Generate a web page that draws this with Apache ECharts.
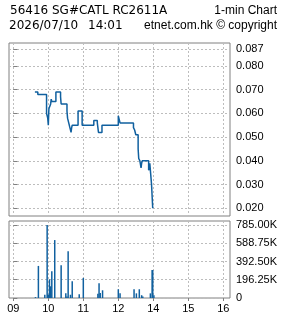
<!DOCTYPE html>
<html><head><meta charset="utf-8">
<script src="https://cdn.jsdelivr.net/npm/echarts@6/dist/echarts.min.js"></script>
<style>html,body{margin:0;padding:0;background:#fff}#c{width:285px;height:318px}</style>
</head><body><div id="c"></div>
<script>
const titleLine1 = "56416 SG#CATL RC2611A";
const titleRight1 = "1-min Chart";
const titleDate = "2026/07/10";
const titleTime = "14:01";
const titleRight2 = "etnet.com.hk \u00A9 copyright";
const prevClose = 0.087;

const priceTimes = ["09:37","09:42","09:57","09:59","10:00","10:01","10:04","10:05","10:06","10:13","10:21","10:22","10:32","10:33","10:35","10:37","10:39","10:40","10:41","10:51","10:58","11:18","11:24","11:26","11:32","13:00","13:03","13:26","13:28","13:30","13:34","13:35","13:37","13:39","13:40","13:41","13:52","13:54","13:57","13:59","14:00"];
const priceValues = [0.069,0.068,0.060,0.058,0.055,0.062,0.064,0.066,0.065,0.069,0.067,0.064,0.061,0.058,0.056,0.054,0.052,0.054,0.055,0.061,0.055,0.057,0.056,0.052,0.055,0.059,0.056,0.054,0.053,0.051,0.045,0.041,0.040,0.037,0.039,0.040,0.036,0.039,0.030,0.020,0.020];

const volTimes = ["09:38","09:43","09:54","09:58","09:59","10:00","10:02","10:03","10:04","10:06","10:11","10:22","10:30","10:32","10:34","10:38","10:41","10:53","11:00","11:25","11:27","11:29","11:33","13:00","13:03","13:27","13:31","13:36","13:40","13:42","13:55","13:58","13:59","14:01"];
const volValues = [10000,345000,35000,785000,35000,35000,200000,35000,126000,288000,623000,353000,50000,15000,504000,35000,180000,40000,216000,45000,159000,55000,83000,94000,50000,94000,50000,94000,30000,15000,50000,300000,300000,30000];

const hourTickTimes = ["09:00","10:00","11:00","12:00","14:00","15:00","16:00"];
const hourTickLabels = ["09","10","11","12","14","15","16"];
const priceTicks = [0.020,0.030,0.040,0.050,0.060,0.070,0.080];
const volTicks = [0,196250,392500,588750,785000];

function tradeMin(t){
  const p = t.split(':').map(Number);
  let v = (p[0]-9)*60 + p[1];
  if (p[0] >= 13) v -= 60;
  return v;
}
const hourPos = hourTickTimes.map(tradeMin);
const labelMap = {};
hourPos.forEach((p,i)=>{labelMap[p]=hourTickLabels[i];});

const priceData = priceTimes.map((t,i)=>[tradeMin(t), priceValues[i]]);
const volData = volTimes.map((t,i)=>[tradeMin(t), volValues[i]]);

const X_MIN = -7.4, X_MAX = 371.5;
const gridColor = '#bdbdbd';
const blue = '#10609f';
const lblFont = {fontFamily:'Liberation Sans', fontSize:11, color:'#000'};
const dv = {fontFamily:'DejaVu Sans', fontSize:12, fill:'#000'};
const ls = {fontFamily:'Liberation Sans', fontSize:12, fill:'#000'};

const chart = echarts.init(document.getElementById('c'), null, {renderer:'canvas'});
chart.setOption({
  animation:false,
  backgroundColor:'#fff',
  graphic:[
    {type:'text', left:10, top:5, style:Object.assign({text:titleLine1}, dv)},
    {type:'text', right:8, top:5, style:Object.assign({text:titleRight1}, ls)},
    {type:'text', left:9, top:20, style:Object.assign({text:titleDate}, dv)},
    {type:'text', left:88, top:20, style:Object.assign({text:titleTime}, dv)},
    {type:'text', right:8, top:20, style:Object.assign({text:titleRight2}, ls)}
  ],
  grid:[
    {left:9, top:43, width:221, height:173, show:true, borderColor:'#808080', borderWidth:1, containLabel:false},
    {left:9, top:221, width:221, height:77, show:true, borderColor:'#808080', borderWidth:1, containLabel:false}
  ],
  xAxis:[
    {type:'value', gridIndex:0, min:X_MIN, max:X_MAX,
     axisLine:{show:false}, axisLabel:{show:false},
     axisTick:{show:false, customValues:hourPos},
     splitLine:{show:true, lineStyle:{color:gridColor, type:[2,2], width:1}}},
    {type:'value', gridIndex:1, min:X_MIN, max:X_MAX,
     axisLine:{show:false},
     axisLabel:Object.assign({show:true, customValues:hourPos, margin:5, formatter:v=>labelMap[v]||''}, lblFont),
     axisTick:{show:true, inside:false, length:3, customValues:hourPos, lineStyle:{color:'#808080'}},
     splitLine:{show:true, lineStyle:{color:gridColor, type:[2,2], width:1}}}
  ],
  yAxis:[
    {type:'value', gridIndex:0, position:'right', min:0.01675, max:0.0897,
     axisLine:{show:false},
     axisTick:{show:true, inside:false, length:4, customValues:priceTicks.concat([prevClose]), lineStyle:{color:'#808080'}},
     axisLabel:Object.assign({show:true, margin:6, customValues:priceTicks.concat([prevClose]), formatter:v=>v.toFixed(3)}, lblFont),
     splitLine:{show:true, lineStyle:{color:gridColor, type:[2,2], width:1}}},
    {type:'value', gridIndex:1, position:'right', min:0, max:828000,
     axisLine:{show:false},
     axisTick:{show:true, inside:false, length:4, customValues:volTicks, lineStyle:{color:'#808080'}},
     axisLabel:Object.assign({show:true, margin:6, customValues:volTicks, formatter:v=>v===0?'0':(v/1000).toFixed(2)+'K'}, lblFont),
     splitLine:{show:true, lineStyle:{color:gridColor, type:[2,2], width:1}}}
  ],
  series:[
    {type:'line', xAxisIndex:0, yAxisIndex:0, data:priceData, step:'end', showSymbol:false,
     lineStyle:{color:blue, width:1.5}, z:3,
     markLine:{silent:true, symbol:'none', label:{show:false},
       lineStyle:{color:'#ff0a80', width:1, type:'solid'},
       data:[{yAxis:prevClose}]}},
    {type:'bar', xAxisIndex:1, yAxisIndex:1, data:volData, barWidth:1.5,
     itemStyle:{color:blue}}
  ]
});
</script></body></html>
